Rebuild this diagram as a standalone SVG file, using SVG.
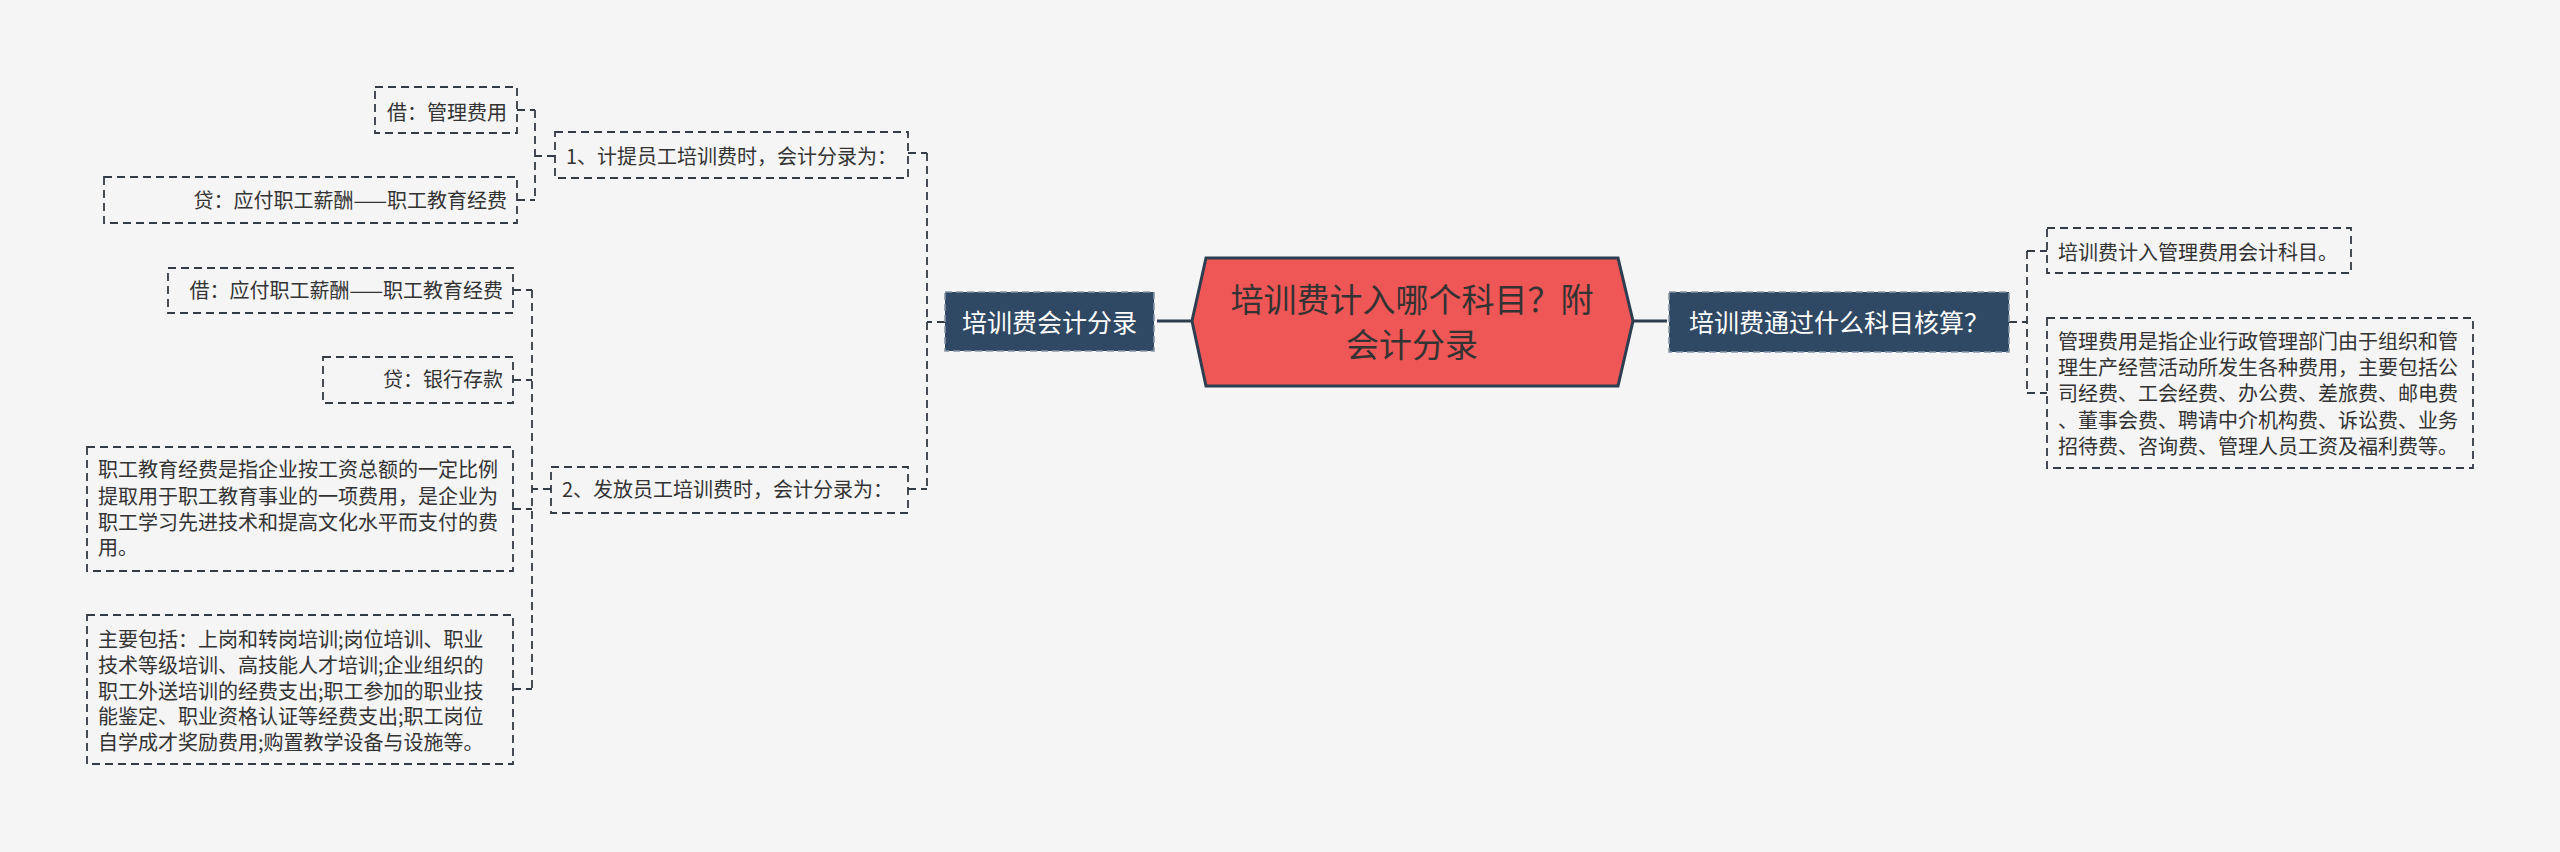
<svg xmlns="http://www.w3.org/2000/svg" width="2560" height="852" viewBox="0 0 2560 852">
<style>
text{font-family:"Noto Sans CJK SC","Liberation Sans",sans-serif;fill:#333333;}
.leaf{fill:#f5f5f5;stroke:#333b44;stroke-width:1.8;stroke-dasharray:8 5;}
.t20{font-size:20px;}
.main{fill:#2f4863;stroke:#8797a8;stroke-width:1.6;stroke-dasharray:7 4;}
.mt{fill:#ffffff;font-size:25px;text-anchor:middle;}
.conn{fill:none;stroke:#333b44;stroke-width:1.8;stroke-dasharray:8 5;}
.solid{fill:none;stroke:#2c3e50;stroke-width:3;}
</style>
<rect x="0" y="0" width="2560" height="852" fill="#f5f5f5"/>
<g id="connectors">
<path class="solid" d="M1192,321 H1157"/>
<path class="solid" d="M1633,321 H1667"/>
<path class="conn" d="M945,322 H927 M927,153 V489 M908,153 H927 M908,489 H927"/>
<path class="conn" d="M555,156 H535 M535,110 V198 M517,110 H535 M517,200 H535"/>
<path class="conn" d="M551,489 H532 M532,290 V689 M513,290 H532 M513,380 H532 M513,509 H532 M513,689 H532"/>
<path class="conn" d="M2009,322 H2027 M2027,251 V393 M2027,251 H2047 M2027,393 H2047"/>
</g>
<g id="root">
<polygon points="1206,258 1618,258 1633,321 1618,386 1206,386 1192,321" fill="#ef5656" stroke="#2c3e50" stroke-width="3"/>
<text x="1412" y="312" font-size="33" text-anchor="middle">培训费计入哪个科目？附</text>
<text x="1412" y="357" font-size="33" text-anchor="middle">会计分录</text>
</g>
<g id="n-left">
<rect class="main" x="945" y="292" width="209" height="59"/>
<text class="mt" x="1049.5" y="332" font-size="26">培训费会计分录</text>
</g>
<g id="n-right">
<rect class="main" x="1669" y="292" width="340" height="60"/>
<text class="mt" x="1839" y="332">培训费通过什么科目核算？</text>
</g>
<g id="r1">
<rect class="leaf" x="2047" y="228" width="304" height="45"/>
<text class="t20" x="2058" y="260">培训费计入管理费用会计科目。</text>
</g>
<g id="r2">
<rect class="leaf" x="2047" y="318" width="426" height="150"/>
<text class="t20" x="2058" y="349">管理费用是指企业行政管理部门由于组织和管</text>
<text class="t20" x="2058" y="375">理生产经营活动所发生各种费用，主要包括公</text>
<text class="t20" x="2058" y="401">司经费、工会经费、办公费、差旅费、邮电费</text>
<text class="t20" x="2058" y="428">、董事会费、聘请中介机构费、诉讼费、业务</text>
<text class="t20" x="2058" y="454">招待费、咨询费、管理人员工资及福利费等。</text>
</g>
<g id="l1">
<rect class="leaf" x="555" y="132" width="353" height="46"/>
<text class="t20" x="566" y="164">1、计提员工培训费时，会计分录为：</text>
</g>
<g id="l2">
<rect class="leaf" x="551" y="467" width="357" height="46"/>
<text class="t20" x="562" y="497">2、发放员工培训费时，会计分录为：</text>
</g>
<g id="l1a">
<rect class="leaf" x="375" y="87" width="142" height="46"/>
<text class="t20" x="507" y="120" text-anchor="end">借：管理费用</text>
</g>
<g id="l1b">
<rect class="leaf" x="104" y="177" width="413" height="46"/>
<text class="t20" x="507" y="208" text-anchor="end">贷：应付职工薪酬——职工教育经费</text>
</g>
<g id="l2a">
<rect class="leaf" x="168" y="268" width="345" height="45"/>
<text class="t20" x="503" y="298" text-anchor="end">借：应付职工薪酬——职工教育经费</text>
</g>
<g id="l2b">
<rect class="leaf" x="323" y="357" width="190" height="46"/>
<text class="t20" x="503" y="387" text-anchor="end">贷：银行存款</text>
</g>
<g id="l2c">
<rect class="leaf" x="87" y="447" width="426" height="124"/>
<text class="t20" x="98" y="477">职工教育经费是指企业按工资总额的一定比例</text>
<text class="t20" x="98" y="504">提取用于职工教育事业的一项费用，是企业为</text>
<text class="t20" x="98" y="530">职工学习先进技术和提高文化水平而支付的费</text>
<text class="t20" x="98" y="555">用。</text>
</g>
<g id="l2d">
<rect class="leaf" x="87" y="615" width="426" height="149"/>
<text class="t20" x="98" y="647">主要包括：上岗和转岗培训;岗位培训、职业</text>
<text class="t20" x="98" y="673">技术等级培训、高技能人才培训;企业组织的</text>
<text class="t20" x="98" y="699">职工外送培训的经费支出;职工参加的职业技</text>
<text class="t20" x="98" y="724">能鉴定、职业资格认证等经费支出;职工岗位</text>
<text class="t20" x="98" y="750">自学成才奖励费用;购置教学设备与设施等。</text>
</g>
</svg>
